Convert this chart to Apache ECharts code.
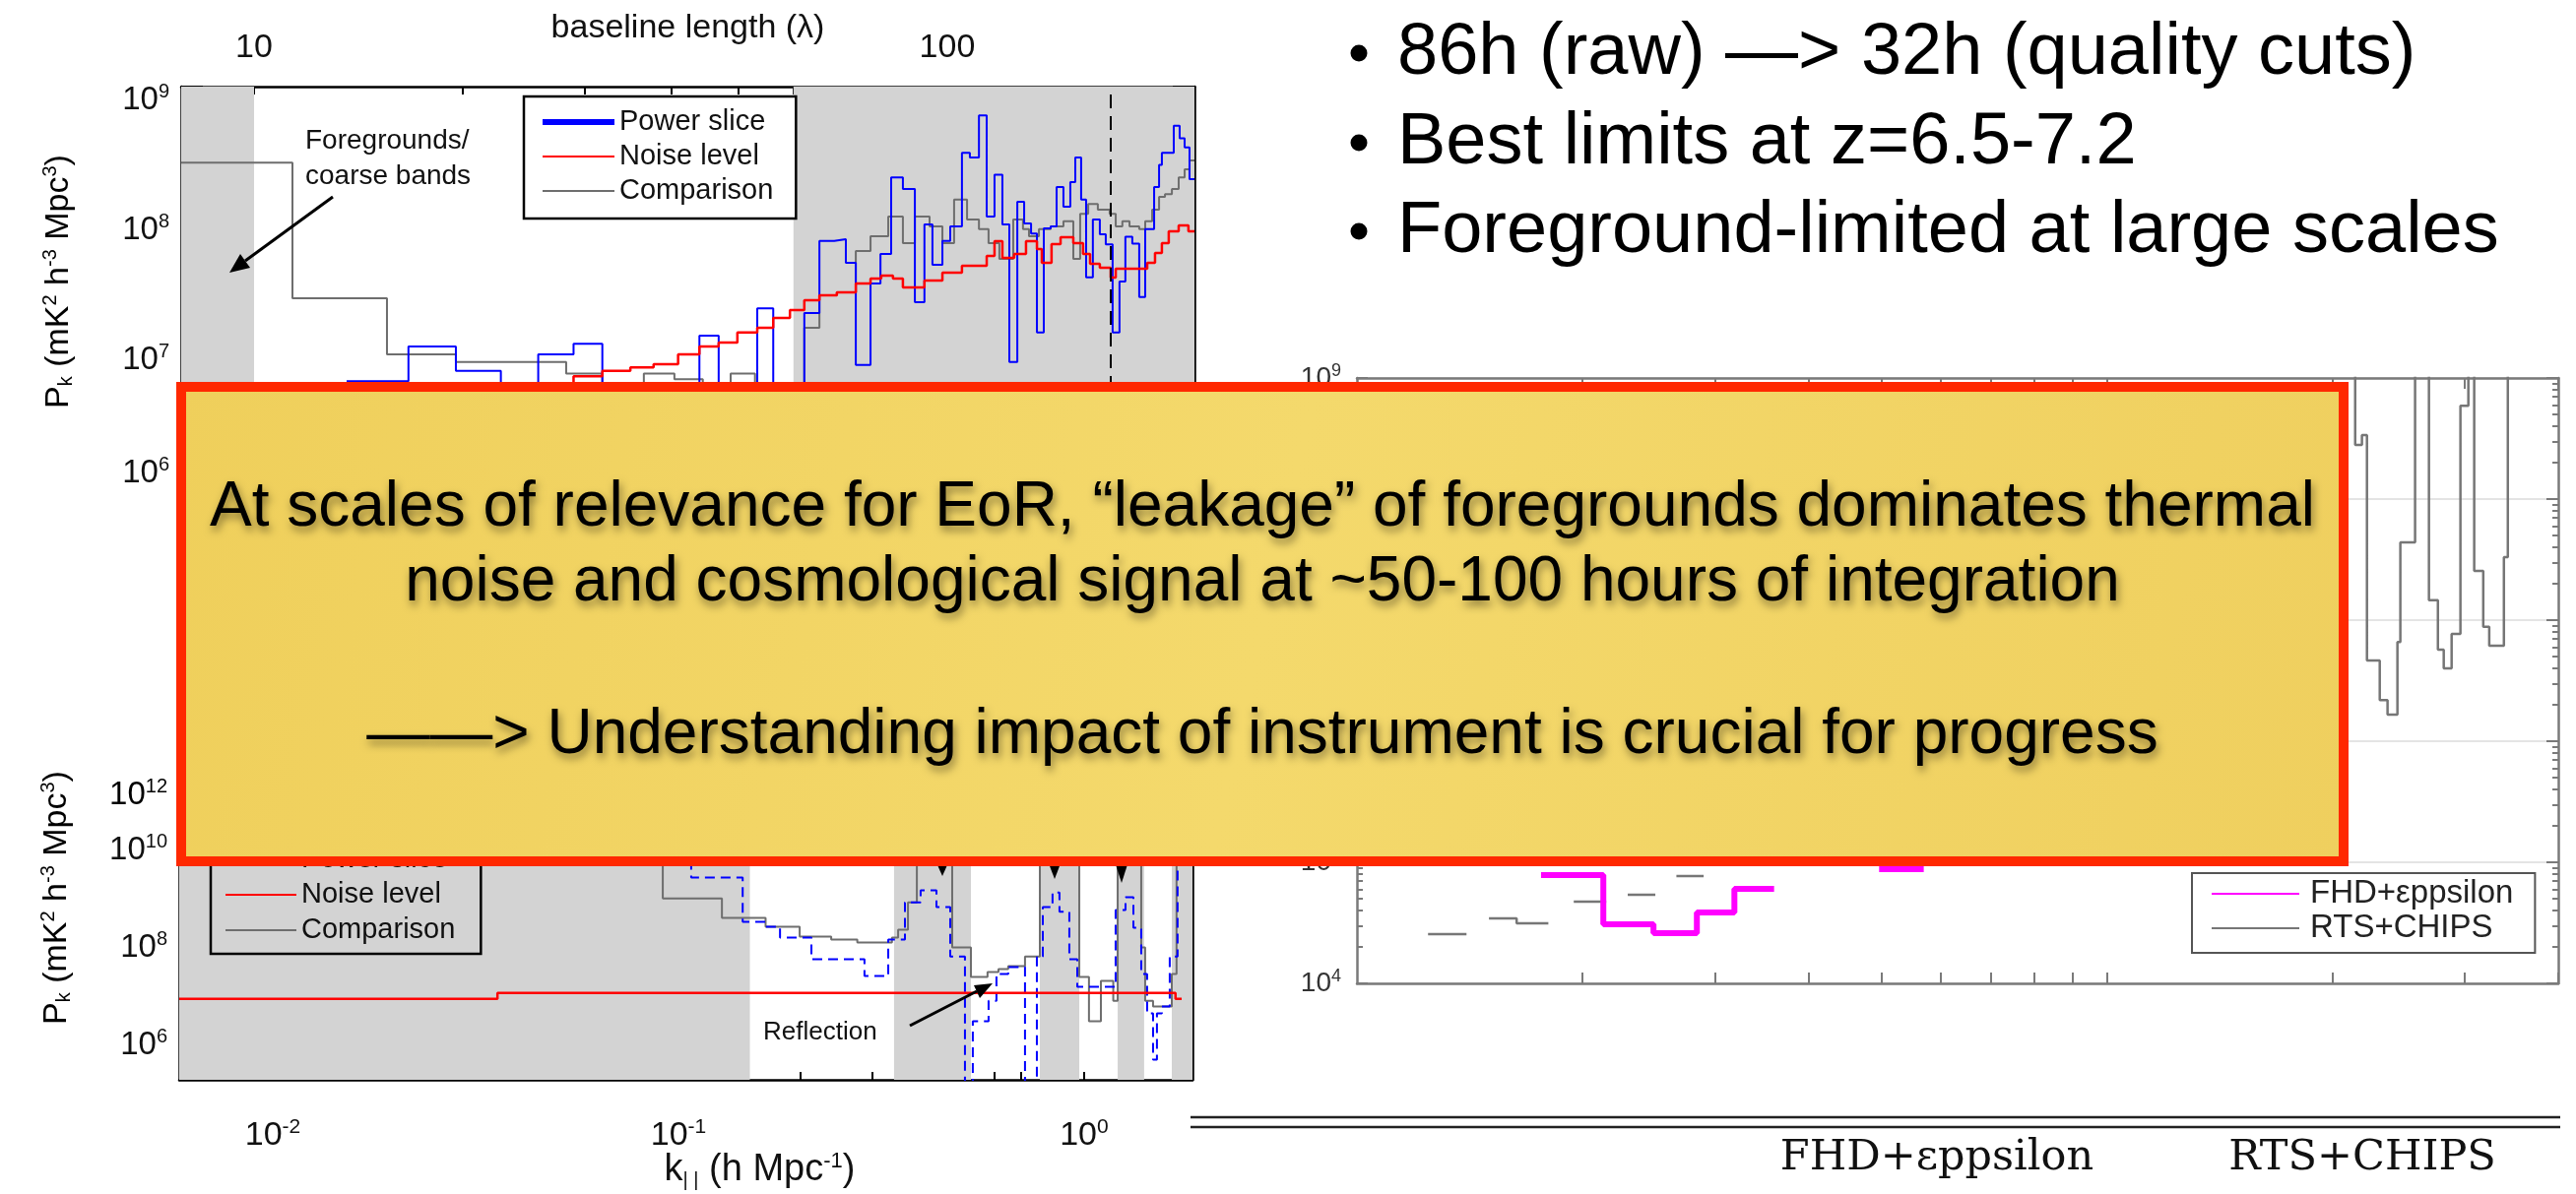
<!DOCTYPE html>
<html>
<head>
<meta charset="utf-8">
<script src="https://cdn.jsdelivr.net/npm/echarts@6/dist/echarts.min.js"></script>
<style>
html, body { margin: 0; padding: 0; background: #fff; }
#main { width: 2616px; height: 1213px; }
</style>
</head>
<body>
<div id="main"></div>
<script>
// ---------- data: upper panel (power vs baseline length, lambda) ----------
// each entry = [left bin edge (lambda), power (mK^2 h^-3 Mpc^3)], last entry closes the last bin
var topComparison = [[7.85, 2.6e8], [11.36, 2.35e7], [15.55, 8.7e6], [19.55, 7.6e6], [28.2, 6.2e6], [31.8, 4.5e6],
  [36.5, 6.2e6], [40.4, 5.6e6], [44.4, 4.5e6], [48.7, 6.2e6], [52.8, 4.0e6], [62.2, 1.39e7], [65.4, 2.48e7],
  [69.3, 2.61e7], [73.8, 5.43e7], [77.5, 7.05e7], [82.2, 1.0e8], [86.3, 6.24e7], [89.8, 1.0e8], [94.3, 8.4e7],
  [98.4, 6.24e7], [102.3, 1.35e8], [106.8, 9.5e7], [111.1, 8.0e7], [114.7, 6.24e7], [118.9, 4.72e7], [124.5, 9.5e7],
  [128.6, 8.0e7], [131.2, 7.05e7], [135.6, 8.0e7], [141.0, 8.4e7], [147.1, 9.2e7], [152.0, 4.72e7], [155.5, 1.05e8],
  [159.7, 1.25e8], [164.9, 1.13e8], [171.5, 1.05e8], [175.0, 8.4e7], [178.9, 9.2e7], [183.2, 8.4e7], [189.2, 8.0e7],
  [193.0, 9.2e7], [197.5, 1.13e8], [202.1, 1.42e8], [206.1, 1.49e8], [210.9, 1.63e8], [215.7, 2.0e8], [220.0, 2.31e8],
  [223.6, 2.7e8], [227.3, 2.7e8]];
var topNoise = [[7.85, 2.5e6], [28.9, 5.9e6], [31.8, 6.5e6], [34.9, 6.9e6], [37.7, 7.3e6], [40.9, 8.7e6], [43.9, 1.0e7],
  [46.8, 1.07e7], [49.8, 1.28e7], [53.2, 1.39e7], [56.1, 1.66e7], [59.3, 1.91e7], [62.2, 2.27e7], [65.4, 2.48e7],
  [69.3, 2.61e7], [73.8, 3.05e7], [77.5, 3.33e7], [80.3, 3.51e7], [83.5, 3.33e7], [86.3, 2.85e7], [92.7, 3.22e7],
  [98.4, 3.7e7], [105.0, 4.18e7], [114.0, 4.98e7], [117.0, 6.47e7], [120.1, 4.8e7], [124.9, 5.15e7], [129.9, 6.47e7],
  [134.7, 5.62e7], [136.9, 4.4e7], [141.4, 6.14e7], [145.7, 6.93e7], [152.0, 6.24e7], [157.0, 5.15e7], [160.7, 4.33e7],
  [166.0, 4.03e7], [172.1, 3.39e7], [175.0, 3.96e7], [194.3, 4.4e7], [199.4, 5.25e7], [204.0, 6.24e7], [208.7, 7.7e7],
  [215.7, 8.55e7], [222.8, 7.7e7], [227.3, 7.7e7]];
var topPower = [[13.6, 5.4e6], [16.7, 1.0e7], [19.55, 6.5e6], [22.7, 3.5e6], [25.7, 8.7e6], [28.9, 1.05e7], [31.8, 3.0e6],
  [43.9, 1.21e7], [46.8, 3.0e6], [53.2, 1.97e7], [56.1, 3.0e6], [62.2, 1.81e7], [65.4, 6.5e7], [68.7, 6.7e7],
  [71.4, 4.4e7], [73.8, 7.2e6], [77.5, 3.05e7], [80.1, 5.15e7], [83.0, 2.0e8], [86.3, 1.63e8], [89.8, 2.19e7],
  [92.7, 8.7e7], [95.2, 4.26e7], [98.4, 6.5e7], [101.0, 8.4e7], [105.0, 3.1e8], [107.8, 2.85e8], [111.1, 6.0e8],
  [114.0, 1.0e8], [117.0, 2.1e8], [120.1, 8.7e7], [122.9, 7.6e6], [126.2, 1.3e8], [129.1, 8.85e7], [132.1, 7.4e7],
  [134.7, 1.28e7], [137.8, 8.1e7], [141.0, 8.4e7], [143.8, 1.69e8], [147.1, 1.19e8], [150.5, 1.84e8], [153.0, 2.85e8],
  [156.0, 1.35e8], [158.6, 3.4e7], [162.2, 9.5e7], [166.0, 7.3e7], [169.3, 6.1e7], [173.2, 1.28e7], [177.2, 3.16e7],
  [180.7, 7.0e7], [184.9, 6.2e7], [189.2, 2.4e7], [193.0, 8.0e7], [198.8, 1.69e8], [202.1, 2.5e8], [204.0, 3.1e8],
  [212.2, 5.0e8], [216.4, 4.0e8], [220.0, 3.4e8], [223.6, 1.94e8], [227.3, 1.94e8]];
var topBands = [[7.85, 10], [60, 227.3]];
var topDashedLambda = 172;
var baselineLabels = [10, 100];
var baselineTicks = [8, 9, 10, 20, 30, 40, 50, 60, 70, 80, 90, 100, 200];
var topYLabels = [1e7, 1e8, 1e9];
var topYBottomLabel = [1e6];

// ---------- data: lower panel (power vs k_parallel) ----------
var kparComparison = [[0.00588, 4e10], [0.0915, 5.3e8], [0.128, 2.1e8], [0.164, 1.38e8], [0.199, 8.7e7], [0.238, 7.6e7],
  [0.276, 6.6e7], [0.336, 8.3e7], [0.348, 1.2e8], [0.368, 4.4e8], [0.387, 3e10], [0.473, 5.2e7], [0.526, 1.29e7],
  [0.578, 1.63e7], [0.615, 1.87e7], [0.65, 2.15e7], [0.715, 3.4e7], [0.778, 3e10], [0.973, 1.29e7], [1.028, 1.6e6],
  [1.10, 1.07e7], [1.18, 4.2e6], [1.21, 3e10], [1.383, 5.2e7], [1.414, 4.2e6], [1.479, 3.2e6], [1.645, 1.49e7],
  [1.69, 3e10], [1.85, 3e10]];
var kparPower = [[0.00588, 1e10], [0.1075, 1.41e9], [0.144, 1.75e8], [0.164, 1.38e8], [0.178, 8.3e7], [0.2127, 2.98e7],
  [0.2875, 1.35e7], [0.329, 7.6e7], [0.3617, 4.4e8], [0.3954, 7.7e8], [0.4325, 3.5e8], [0.4677, 3.4e7], [0.5085, 5e4],
  [0.5317, 1.6e6], [0.5815, 4.2e6], [0.6081, 1.49e7], [0.65, 2.05e7], [0.715, 5e4], [0.7648, 3.4e7], [0.791, 3.5e8],
  [0.836, 7.0e8], [0.8696, 2.8e8], [0.9196, 2.98e7], [0.962, 8.1e6], [1.196, 3.05e8], [1.265, 5.6e8], [1.323, 1.32e8],
  [1.383, 1.49e7], [1.43, 2.3e6], [1.479, 2.6e5], [1.512, 2.3e6], [1.555, 3.2e6], [1.626, 3.4e7], [1.70, 1e10],
  [1.85, 1e10]];
var kparNoise = [[0.00588, 4.6e6], [0.0358, 6.1e6], [1.68, 4.6e6], [1.74, 4.6e6]];
var kparBands = [[0.00588, 0.15], [0.34, 0.526], [0.778, 0.973], [1.21, 1.406], [1.645, 1.85]];
var kparLabels = [0.01, 0.1, 1];
var kparTicks = [0.006, 0.007, 0.008, 0.009, 0.01, 0.02, 0.03, 0.04, 0.05, 0.06, 0.07, 0.08, 0.09,
  0.1, 0.2, 0.3, 0.4, 0.5, 0.6, 0.7, 0.8, 0.9, 1];
var kparYLabels = [1e6, 1e8, 1e10];
var kparTopLabel = '{b|10}{s|12}';

// ---------- data: right panel (pipeline comparison) ----------
var rtsChips = [[0.01244, 2.55e4], [0.01374, 2.55e4], [0.0140, '-'], [0.0150, 3.44e4], [0.01633, 3.13e4],
  [0.01795, 3.13e4], [0.0180, '-'], [0.01946, 4.73e4], [0.02114, 4.73e4], [0.0215, '-'], [0.02297, 5.4e4],
  [0.02493, 5.4e4], [0.0250, '-'], [0.02667, 7.7e4], [0.02877, 7.7e4], [0.0290, '-'],
  [0.2105, 3e9], [0.2144, 2.8e8], [0.2189, 3.37e8], [0.2223, 4.65e6], [0.2312, 2.19e6], [0.2368, 1.66e6],
  [0.2441, 6.6e6], [0.2463, 4.39e7], [0.2577, 3e9], [0.2689, 1.46e7], [0.2764, 5.7e6], [0.2814, 4.0e6],
  [0.2883, 7.7e6], [0.2962, 5.9e8], [0.3035, 3e9], [0.3090, 2.55e7], [0.3177, 8.8e6], [0.3236, 6.15e6],
  [0.3385, 3.31e7], [0.3426, 3e9], [0.4016, 3e9]];
var fhdEppsilon = [[0.0176, 7.83e4], [0.02131, 3.08e4], [0.02486, 2.6e4], [0.0284, 3.85e4], [0.03187, 6.03e4],
  [0.03532, 6.03e4], [0.0360, '-'], [0.0497, 8.77e4], [0.0570, 8.77e4]];
var rightXTicks = [0.02, 0.03, 0.04, 0.05, 0.06, 0.07, 0.08, 0.09, 0.1, 0.2, 0.3, 0.4];
var rightYLabels = [1e4, 1e5, 1e6, 1e7, 1e8, 1e9];

// ---------- slide text ----------
var bulletLines = ['86h (raw) —> 32h (quality cuts)', 'Best limits at z=6.5-7.2', 'Foreground-limited at large scales'];
var boxLines = ['At scales of relevance for EoR, “leakage” of foregrounds dominates thermal',
  'noise and cosmological signal at ~50-100 hours of integration',
  '——> Understanding impact of instrument is crucial for progress'];
var tableHeaders = ['FHD+εppsilon', 'RTS+CHIPS'];

var FONT = 'Liberation Sans, Arial, Helvetica, sans-serif';
var myChart = echarts.init(document.getElementById('main'));

function powLabel(v) {
	var e = Math.round(Math.log(v) / Math.LN10);
	return '{b|10}{s|' + e + '}';
}
// mantissa 2..9 ticks between two decades
function minorTicks(lo, hi) {
	var out = [];
	for (var e = lo; e < hi; e++) {
		for (var m = 2; m < 10; m++) {
			out.push(m * Math.pow(10, e));
		}
	}
	return out;
}
function decades(lo, hi, step) {
	var out = [];
	for (var e = lo; e <= hi; e += step) {
		out.push(Math.pow(10, e));
	}
	return out;
}
function labelRich(size, supSize, color) {
	return {
		b : { fontSize : size, fontFamily : FONT, color : color },
		s : { fontSize : supSize, fontFamily : FONT, color : color, padding : [ 0, 0, Math.round(size * 0.5), 0 ] }
	};
}
var pkName = '{a|P}{sub|k}{a| (mK}{sup|2}{a| h}{sup|-3}{a| Mpc}{sup|3}{a|)}';
var pkRich = {
	a : { fontSize : 34, fontFamily : FONT, color : '#000' },
	sub : { fontSize : 20, fontFamily : FONT, color : '#000', padding : [ 15, 0, 0, 0 ] },
	sup : { fontSize : 20, fontFamily : FONT, color : '#000', padding : [ 0, 0, 17, 0 ] }
};
var black = '#000';
var frameGray = '#7a7a7a';
var noSymbol = { color : 'rgba(0,0,0,0)', borderWidth : 0, borderColor : 'rgba(0,0,0,0)' };

// helper for tick-only axes
function tickAxis(base, values, len, showLine, color) {
	return Object.assign({}, base, {
		axisLine : { show : showLine, lineStyle : { color : color, width : 2.5 } },
		axisTick : { show : true, inside : true, length : len, customValues : values, lineStyle : { color : color, width : 2 } },
		axisLabel : { show : false },
		splitLine : { show : false }
	});
}
var topY = { type : 'log', gridIndex : 0, min : 1e6, max : 1e9 };
var botY = { type : 'log', gridIndex : 1, min : 1e5, max : 1e13 };
var rightY = { type : 'log', gridIndex : 2, min : 1e4, max : 1e9 };
var rightX = { type : 'log', gridIndex : 2, min : 0.01, max : 0.4 };

function bandAreas(bands) {
	return bands.map(function(b) {
		return [ { xAxis : b[0] }, { xAxis : b[1] } ];
	});
}

var topMinorAxis = tickAxis(Object.assign({ position : 'left' }, topY), minorTicks(6, 9), 12, false, black);
// the bottom label of the upper panel is nudged up inside the frame, as in the figure
topMinorAxis.axisLabel = { show : true, customValues : topYBottomLabel, margin : 12, padding : [ 0, 0, 6, 0 ],
	formatter : powLabel, rich : labelRich(33, 20, '#111') };

var option = {
	backgroundColor : '#fff',
	animation : false,
	textStyle : { fontFamily : FONT },
	grid : [
		{ left : 184, top : 88, width : 1029, height : 396, containLabel : false, outerBoundsMode : 'none' },
		{ left : 182, top : 701, width : 1029, height : 396, containLabel : false, outerBoundsMode : 'none' },
		{ left : 1378, top : 384, width : 1220, height : 615, containLabel : false, outerBoundsMode : 'none' }
	],
	xAxis : [
		{
			type : 'log', gridIndex : 0, position : 'top', min : 7.85, max : 227.3,
			name : 'baseline length (λ)', nameLocation : 'middle', nameGap : 42, nameMoveOverlap : false,
			nameTextStyle : { fontSize : 34, color : '#111', fontFamily : FONT },
			axisLine : { show : true, lineStyle : { color : black, width : 2.5 } },
			axisTick : { show : true, inside : true, length : 8, customValues : baselineTicks, lineStyle : { color : black, width : 2 } },
			axisLabel : { show : true, customValues : baselineLabels, margin : 22, fontSize : 34, color : '#111',
				formatter : function(v) { return String(Math.round(v)); } },
			splitLine : { show : false }
		},
		{
			type : 'log', gridIndex : 1, position : 'bottom', min : 0.00588, max : 1.85,
			name : '{a|k}{sub|| |}{a| (h Mpc}{sup|-1}{a|)}', nameLocation : 'middle', nameGap : 72, nameMoveOverlap : false,
			nameTextStyle : { padding : [ 0, 0, 0, 150 ], rich : {
				a : { fontSize : 38, fontFamily : FONT, color : '#111' },
				sub : { fontSize : 20, fontFamily : FONT, color : '#111', padding : [ 20, 0, 0, 0 ] },
				sup : { fontSize : 22, fontFamily : FONT, color : '#111', padding : [ 0, 0, 18, 0 ] } } },
			axisLine : { show : true, lineStyle : { color : black, width : 2.5 } },
			axisTick : { show : true, inside : true, length : 8, customValues : kparTicks, lineStyle : { color : black, width : 2 } },
			axisLabel : { show : true, customValues : kparLabels, margin : 38, formatter : powLabel, rich : labelRich(34, 21, '#111') },
			splitLine : { show : false }
		},
		tickAxis(Object.assign({ position : 'bottom' }, rightX), rightXTicks, 11, true, frameGray),
		tickAxis(Object.assign({ position : 'top' }, rightX), rightXTicks, 11, true, frameGray)
	],
	yAxis : [
		Object.assign({}, topY, {
			position : 'left', name : pkName, nameLocation : 'middle', nameGap : 106, nameMoveOverlap : false,
			nameTextStyle : { rich : pkRich },
			axisLine : { show : true, lineStyle : { color : black, width : 2.5 } },
			axisTick : { show : true, inside : true, length : 22, customValues : decades(6, 9, 1), lineStyle : { color : black, width : 2 } },
			axisLabel : { show : true, customValues : topYLabels, margin : 12, padding : [ 28, 0, 0, 0 ],
				formatter : powLabel, rich : labelRich(33, 20, '#111') },
			splitLine : { show : false }
		}),
		topMinorAxis,
		tickAxis(Object.assign({ position : 'right' }, topY), decades(6, 9, 1), 22, true, black),
		tickAxis(Object.assign({ position : 'right' }, topY), minorTicks(6, 9), 10, false, black),
		Object.assign({}, botY, {
			position : 'left', name : pkName, nameLocation : 'middle', nameGap : 106, nameMoveOverlap : false,
			nameTextStyle : { rich : pkRich, padding : [ 0, 26, 0, 0 ] },
			axisLine : { show : true, lineStyle : { color : black, width : 2.5 } },
			axisTick : { show : true, inside : true, length : 22, customValues : decades(6, 12, 2), lineStyle : { color : black, width : 2 } },
			axisLabel : { show : true, customValues : kparYLabels, margin : 12, padding : [ 28, 0, 0, 0 ],
				formatter : powLabel, rich : labelRich(33, 20, '#111') },
			splitLine : { show : false }
		}),
		tickAxis(Object.assign({ position : 'left' }, botY), decades(7, 11, 2), 11, false, black),
		tickAxis(Object.assign({ position : 'right' }, botY), decades(6, 12, 2), 15, true, black),
		tickAxis(Object.assign({ position : 'right' }, botY), decades(7, 11, 2), 8, false, black),
		Object.assign({}, rightY, {
			position : 'left',
			axisLine : { show : true, lineStyle : { color : frameGray, width : 2.5 } },
			axisTick : { show : true, inside : true, length : 11, customValues : rightYLabels, lineStyle : { color : frameGray, width : 2 } },
			axisLabel : { show : true, customValues : rightYLabels, margin : 16, formatter : powLabel, rich : labelRich(28, 18, '#333') },
			splitLine : { show : true, lineStyle : { color : '#e4e4e4', width : 2 } }
		}),
		tickAxis(Object.assign({ position : 'left' }, rightY), minorTicks(4, 9), 6, false, frameGray),
		tickAxis(Object.assign({ position : 'right' }, rightY), rightYLabels, 12, true, frameGray),
		tickAxis(Object.assign({ position : 'right' }, rightY), minorTicks(4, 9), 6, false, frameGray)
	],
	legend : [
		{
			left : 532, top : 98, orient : 'vertical', selectedMode : false,
			itemWidth : 73, itemHeight : 14, itemGap : 1, padding : [ 9, 23, 11, 16 ],
			borderColor : black, borderWidth : 2.5, backgroundColor : '#fff', itemStyle : noSymbol,
			textStyle : { fontSize : 29, lineHeight : 34, color : '#111', fontFamily : FONT },
			data : [ { name : 'Power slice', lineStyle : { width : 6 } }, 'Noise level', 'Comparison' ]
		},
		{
			left : 214, top : 847, orient : 'vertical', selectedMode : false,
			itemWidth : 72, itemHeight : 14, itemGap : 2, padding : [ 9, 26, 7, 14 ],
			borderColor : black, borderWidth : 2.5, backgroundColor : 'rgba(0,0,0,0)', itemStyle : noSymbol,
			textStyle : { fontSize : 29, lineHeight : 34, color : '#111', fontFamily : FONT },
			data : [ 'Power slice', 'Noise level', 'Comparison' ]
		},
		{
			left : 2226, top : 887, orient : 'vertical', selectedMode : false,
			itemWidth : 89, itemHeight : 14, itemGap : 1, padding : [ 4, 22, 8, 19 ],
			borderColor : '#555', borderWidth : 2, backgroundColor : '#fff', itemStyle : noSymbol,
			textStyle : { fontSize : 33, lineHeight : 34, color : '#222', fontFamily : FONT, padding : [ 0, 0, 0, 6 ] },
			data : [ 'FHD+εppsilon', 'RTS+CHIPS' ]
		}
	],
	series : [
		{
			type : 'line', xAxisIndex : 0, yAxisIndex : 0, data : [], z : 1, silent : true,
			markArea : { silent : true, itemStyle : { color : '#d3d3d3' }, data : bandAreas(topBands) },
			markLine : { silent : true, symbol : [ 'none', 'none' ], label : { show : false },
				lineStyle : { color : black, width : 2, type : [ 14, 8 ] }, data : [ { xAxis : topDashedLambda } ] }
		},
		{ name : 'Comparison', type : 'line', xAxisIndex : 0, yAxisIndex : 0, step : 'end', symbol : 'none', z : 3,
			lineStyle : { color : '#6e6e6e', width : 2 }, itemStyle : { color : '#6e6e6e' }, data : topComparison },
		{ name : 'Power slice', type : 'line', xAxisIndex : 0, yAxisIndex : 0, step : 'end', symbol : 'none', z : 3,
			lineStyle : { color : '#0000ff', width : 2 }, itemStyle : { color : '#0000ff' }, data : topPower },
		{ name : 'Noise level', type : 'line', xAxisIndex : 0, yAxisIndex : 0, step : 'end', symbol : 'none', z : 4,
			lineStyle : { color : '#ff0000', width : 2.5 }, itemStyle : { color : '#ff0000' }, data : topNoise },
		{
			type : 'line', xAxisIndex : 1, yAxisIndex : 4, data : [], z : 1, silent : true,
			markArea : { silent : true, itemStyle : { color : '#d3d3d3' }, data : bandAreas(kparBands) }
		},
		{ name : 'Comparison', type : 'line', xAxisIndex : 1, yAxisIndex : 4, step : 'end', symbol : 'none', z : 3,
			lineStyle : { color : '#6e6e6e', width : 2 }, itemStyle : { color : '#6e6e6e' }, data : kparComparison },
		{ name : 'Power slice', type : 'line', xAxisIndex : 1, yAxisIndex : 4, step : 'end', symbol : 'none', z : 3,
			lineStyle : { color : '#0000ff', width : 2, type : [ 10, 6 ] }, itemStyle : { color : '#0000ff' }, data : kparPower },
		{ name : 'Noise level', type : 'line', xAxisIndex : 1, yAxisIndex : 4, step : 'end', symbol : 'none', z : 4,
			lineStyle : { color : '#ff0000', width : 2.5 }, itemStyle : { color : '#ff0000' }, data : kparNoise },
		{ name : 'RTS+CHIPS', type : 'line', xAxisIndex : 2, yAxisIndex : 8, step : 'end', symbol : 'none', z : 3,
			lineStyle : { color : '#767676', width : 2.5 }, itemStyle : { color : '#767676' }, data : rtsChips },
		{ name : 'FHD+εppsilon', type : 'line', xAxisIndex : 2, yAxisIndex : 8, step : 'end', symbol : 'none', z : 4,
			lineStyle : { color : '#ff00ff', width : 6 }, itemStyle : { color : '#ff00ff' }, data : fhdEppsilon }
	],
	graphic : []
};

// annotations drawn on the panels (under the overlay box)
var g = option.graphic;
function txt(x, y, s, size, extra) {
	return Object.assign({ type : 'text', x : x, y : y, z : 50,
		style : Object.assign({ text : s, fontSize : size, fontFamily : FONT, fill : '#111', align : 'left', verticalAlign : 'middle' }, extra || {}) });
}
g.push(txt(310, 143, 'Foregrounds/', 28));
g.push(txt(310, 179, 'coarse bands', 28));
g.push({ type : 'line', z : 50, shape : { x1 : 338, y1 : 200, x2 : 249, y2 : 265 }, style : { stroke : black, lineWidth : 3 } });
g.push({ type : 'polygon', z : 50, shape : { points : [ [ 233, 277 ], [ 254, 272 ], [ 244, 258 ] ] }, style : { fill : black } });
g.push(txt(775, 1049, 'Reflection', 26));
g.push({ type : 'line', z : 50, shape : { x1 : 924, y1 : 1042, x2 : 992, y2 : 1007 }, style : { stroke : black, lineWidth : 3 } });
g.push({ type : 'polygon', z : 50, shape : { points : [ [ 1008, 999 ], [ 995, 1014 ], [ 989, 1001 ] ] }, style : { fill : black } });
[ [ 957, 890 ], [ 1071, 893 ], [ 1139, 897 ] ].forEach(function(p) {
	g.push({ type : 'polygon', z : 50, shape : { points : [ [ p[0] - 8, 872 ], [ p[0] + 8, 872 ], [ p[0], p[1] ] ] }, style : { fill : black } });
});
// upper tick label of the lower panel sits off the regular decade spacing in the figure
g.push({ type : 'text', x : 170, y : 808, z : 10,
	style : { text : kparTopLabel, align : 'right', verticalAlign : 'middle', rich : labelRich(33, 20, '#111') } });

// overlay box
g.push({ type : 'rect', z : 100, shape : { x : 184, y : 393, width : 2196, height : 482 },
	style : { fill : { type : 'linear', x : 0, y : 0, x2 : 1, y2 : 1, colorStops : [
		{ offset : 0, color : '#efcf5b' }, { offset : 0.5, color : '#f4d96c' }, { offset : 1, color : '#efcf5e' } ] },
		stroke : '#ff2800', lineWidth : 10 } });
var boxY = [ 516, 592, 747 ];
boxLines.forEach(function(s, i) {
	g.push({ type : 'text', x : 1282, y : boxY[i], z : 101,
		style : { text : s, fontSize : 64, fontFamily : FONT, fill : '#000', align : 'center', verticalAlign : 'middle',
			textShadowColor : 'rgba(0,0,0,0.45)', textShadowBlur : 8, textShadowOffsetX : 2, textShadowOffsetY : 5 } });
});

// bullet list top right
var bulletY = [ 54, 145, 235 ];
bulletLines.forEach(function(s, i) {
	g.push({ type : 'circle', z : 20, shape : { cx : 1380, cy : bulletY[i], r : 8.5 }, style : { fill : '#000' } });
	g.push({ type : 'text', x : 1419, y : bulletY[i] + 1, z : 20,
		style : { text : s, fontSize : 74, fontFamily : FONT, fill : '#000', align : 'left', verticalAlign : 'middle' } });
});

// table fragment bottom right
g.push({ type : 'line', z : 20, shape : { x1 : 1209, y1 : 1135, x2 : 2600, y2 : 1135 }, style : { stroke : '#222', lineWidth : 2.5 } });
g.push({ type : 'line', z : 20, shape : { x1 : 1209, y1 : 1145, x2 : 2600, y2 : 1145 }, style : { stroke : '#222', lineWidth : 2.5 } });
g.push({ type : 'text', x : 1967, y : 1177, z : 20, style : { text : tableHeaders[0], fontSize : 43, fontFamily : 'DejaVu Serif, serif',
	fill : '#111', align : 'center', verticalAlign : 'middle' } });
g.push({ type : 'text', x : 2399, y : 1177, z : 20, style : { text : tableHeaders[1], fontSize : 43, fontFamily : 'DejaVu Serif, serif',
	fill : '#111', align : 'center', verticalAlign : 'middle' } });

myChart.setOption(option);
</script>
</body>
</html>
